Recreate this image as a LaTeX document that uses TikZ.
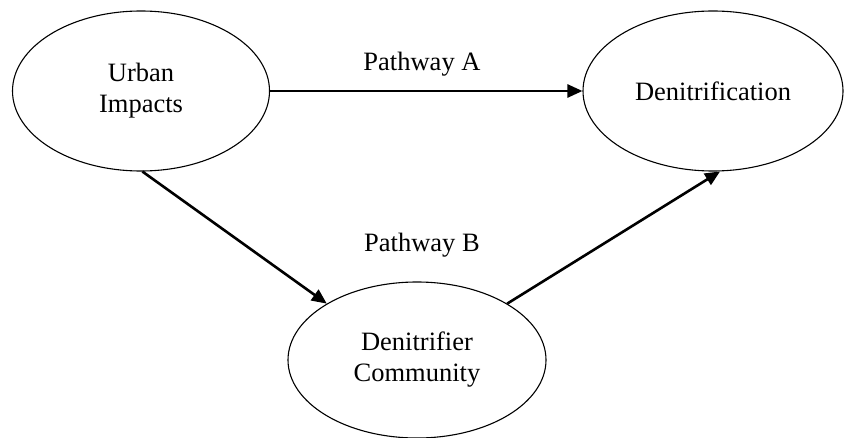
\documentclass[tikz,border=0pt]{standalone}
\usepackage{fontspec}
\setmainfont{Liberation Serif}
\usetikzlibrary{shapes.geometric,arrows.meta}
\begin{document}
\begin{tikzpicture}[x=1pt,y=-1pt,
  oval/.style={ellipse,draw,line width=1.1pt,inner sep=0pt,align=center,
    font=\fontsize{26.5}{31}\selectfont},
  conn/.style={line width=2.6pt,-{Triangle[length=15pt,width=13pt]}},
  lbl/.style={font=\fontsize{26.5}{31}\selectfont}]
\useasboundingbox (0,0) rectangle (850,438);
\node[oval,minimum width=257pt,minimum height=160pt] (u) at (141,91) {Urban\\Impacts};
\node[oval,minimum width=260pt,minimum height=160pt] (d) at (713,91) {Denitrification};
\node[oval,minimum width=258pt,minimum height=156pt] (c) at (417,360) {Denitrifier\\Community};
\draw[conn] (u.east) -- (d.west);
\draw[conn] (u.-89) -- (c.148);
\draw[conn] (c.32) -- (d.-85);
\node[lbl] (pa) at (422,64) {Pathway A};
\node[lbl] (pb) at (422,245) {Pathway B};
\end{tikzpicture}
\end{document}
